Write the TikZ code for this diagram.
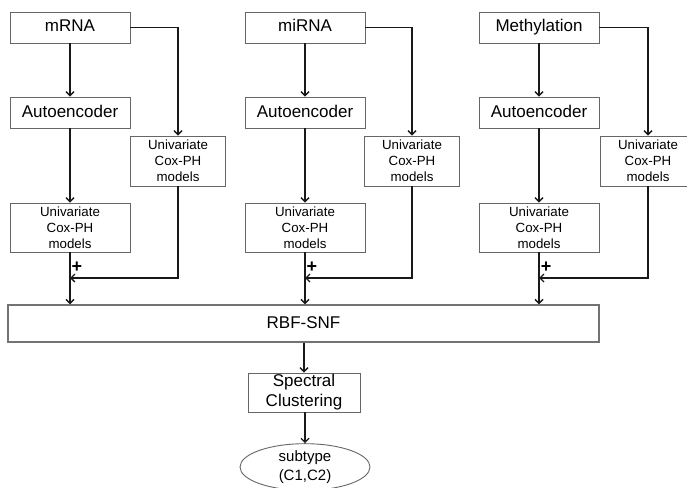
\documentclass[tikz,border=0pt]{standalone}
\usepackage{fontspec}
\setmainfont{Liberation Sans}
\usetikzlibrary{arrows.meta,shapes.geometric}
\begin{document}
\begin{tikzpicture}[x=1pt,y=-1pt,
  box/.style={draw=black!60,line width=0.9pt,fill=white,inner sep=0pt,align=center},
  bigbox/.style={box,minimum width=120pt,minimum height=31pt,font=\fontsize{17}{20}\selectfont},
  onerow/.style={text height=12.5pt,text depth=3.5pt},
  coxbox/.style={box,minimum height=49pt,font=\fontsize{13.3}{16}\selectfont},
  flow/.style={draw=black!90,line width=1.4pt,-{Straight Barb[length=4pt,width=8pt,line width=1.4pt]}},
  plus/.style={inner sep=0pt,font=\fontsize{18}{18}\selectfont\bfseries}]
\clip (0,0) rectangle (687,487);
\fill[white] (0,0) rectangle (687,487);

% three omics columns
\foreach \n/\cx/\rx/\lab in {1/70/178/mRNA, 2/305/412/miRNA, 3/539/648/Methylation}{
  \node[bigbox,onerow] (in\n) at (\cx,27.5) {\lab};
  \node[bigbox,onerow] (ae\n) at (\cx,112.5) {Autoencoder};
  \node[coxbox,minimum width=95pt,minimum height=50pt] (cr\n) at (\rx,161) {Univariate\\Cox-PH\\models};
  \node[coxbox,minimum width=120pt] (cl\n) at (\cx,227.5) {Univariate\\Cox-PH\\models};
  \coordinate (j\n) at (\cx,278);
  \node[plus] (p\n) at (\cx+7,267.5) {+};
}

% fusion and clustering
\node[box,onerow,draw=black!55,line width=1.4pt,minimum width=591pt,minimum height=37pt,
  font=\fontsize{17}{20}\selectfont] (rbf) at (303.5,323.5) {RBF-SNF};
\node[bigbox,minimum width=112pt,minimum height=39pt] (sc) at (304,392.5) {Spectral\\Clustering};
\node[draw=black!60,line width=0.9pt,ellipse,minimum width=130pt,minimum height=42pt,
  inner sep=0pt,align=center,font=\fontsize{15}{19}\selectfont] (st) at (305,467) {subtype\\(C1,C2)};

\foreach \n in {1,2,3}{
  \draw[flow] (in\n) -- (ae\n);
  \draw[flow] (in\n.east) -| (cr\n.north);
  \draw[flow] (ae\n) -- (cl\n);
  \draw[flow] (cr\n.south) |- (j\n);
  \draw[flow] (cl\n.south) -- (cl\n.south |- rbf.north);
}
\draw[flow] (rbf.south -| sc.north) -- (sc.north);
\draw[flow] (sc.south -| st.north) -- (st.north);
\end{tikzpicture}
\end{document}
